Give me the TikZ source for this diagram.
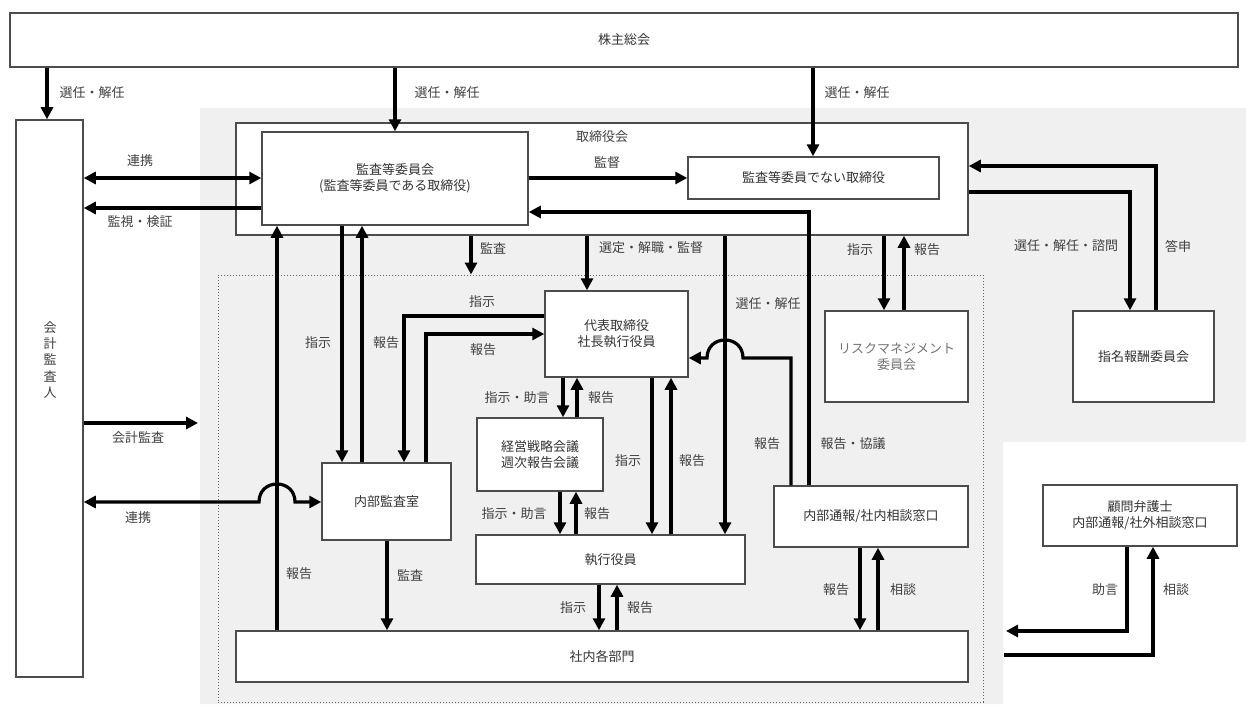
\documentclass[tikz,border=0pt]{standalone}
\usepackage{fontspec}
\setmainfont{Noto Sans CJK JP}
\usetikzlibrary{arrows.meta}

\tikzset{
  box/.style={draw=black!70, line width=1.5pt, fill=white, inner sep=0pt, align=center, text=black!80, font=\fontsize{13}{16}\selectfont},
  lbl/.style={text=black!75, inner sep=1pt, font=\fontsize{13}{16}\selectfont},
  arr/.style={line width=3.2pt, -{Triangle[length=12pt,width=12pt]}},
  dbl/.style={line width=3.2pt, {Triangle[length=12pt,width=12pt]}-{Triangle[length=12pt,width=12pt]}}
}

\begin{document}
\begin{tikzpicture}[x=1pt, y=-1pt]
				% Background
				\useasboundingbox (0,0) rectangle (1246,706);
				\fill[white] (0,0) rectangle (1246,706);
				\fill[black!6] (200,108) -- (1246,108) -- (1246,442) -- (1003,442) -- (1003,704) -- (200,704) -- cycle;
				
				% Boxes
				\node[box, minimum width=1228, minimum height=54] (kabu) at (624,40) {株主総会};
				\node[draw=black!60, dash pattern=on 1pt off 2pt, line width=1pt, minimum width=765, minimum height=427, inner sep=0pt] (exec) at (600.5,488.5) {};
				\node[box, minimum width=732, minimum height=112] (torikai) at (602,179) {};
				\node[lbl] (torilbl) at (602,137) {取締役会};
				\node[box, minimum width=266, minimum height=93] (kansa) at (395,178.5) {監査等委員会\\(監査等委員である取締役)};
				\node[box, minimum width=251, minimum height=42] (hikansa) at (813.5,178) {監査等委員でない取締役};
				\node[box, minimum width=67, minimum height=557] (kaikei) at (49.5,398.5) {};
				\node[lbl, align=center, font=\fontsize{13}{16.3}\selectfont] (kaikeilbl) at (50,360) {会\\計\\監\\査\\人};
				\node[box, minimum width=141, minimum height=91] (shimei) at (1143.5,356.5) {指名報酬委員会};
				\node[box, minimum width=143, minimum height=91, text=black!55] (risk) at (896.5,356.5) {リスクマネジメント\\委員会};
				\node[box, minimum width=143, minimum height=86] (daihyo) at (616.5,334) {代表取締役\\社長執行役員};
				\node[box, minimum width=126, minimum height=73] (keiei) at (540,454.5) {経営戦略会議\\週次報告会議};
				\node[box, minimum width=269, minimum height=49] (shikko) at (610.5,559.5) {執行役員};
				\node[box, minimum width=129, minimum height=77] (naibu) at (386.5,501.5) {内部監査室};
				\node[box, minimum width=194, minimum height=61] (tsuho) at (871,516.5) {内部通報/社内相談窓口};
				\node[box, minimum width=732, minimum height=51] (bumon) at (602,656.5) {社内各部門};
				\node[box, minimum width=194, minimum height=61] (komon) at (1140,515.5) {顧問弁護士\\内部通報/社外相談窓口};
				
				% Free ends
				\coordinate (kaikeitip) at (198,423);
				\coordinate (jogentip) at (1006,631);
				\coordinate (sodanstart) at (1004,655);
				
				% From the general meeting
				\draw[arr] (kabu.south -| 47,0) -- (kaikei.north -| 47,0);
				\draw[arr] (kabu.south -| 395,0) -- (kansa.north);
				\draw[arr] (kabu.south -| 813,0) -- (hikansa.north -| 813,0);
				\node[lbl] (l1) at (92,93) {選任・解任};
				\node[lbl] (l2) at (447,93) {選任・解任};
				\node[lbl] (l3) at (857,93) {選任・解任};
				
				% Auditor and audit committee
				\draw[dbl] (kaikei.east |- 0,178) -- (kansa.west |- 0,178);
				\draw[arr] (kansa.west |- 0,208) -- (kaikei.east |- 0,208);
				\draw[arr] (kaikei.east |- 0,423) -- (kaikeitip);
				\draw[dbl] (kaikei.east |- 0,502) -- (259,502) .. controls (259,478) and (295,478) .. (295,502) -- (naibu.west |- 0,502);
				\node[lbl] (l4) at (140,161) {連携};
				\node[lbl] (l5) at (140,222) {監視・検証};
				\node[lbl] (l6) at (138,438) {会計監査};
				\node[lbl] (l7) at (138,518) {連携};
				
				% Board
				\draw[arr] (kansa.east |- 0,178) -- (hikansa.west |- 0,178);
				\draw[arr] (torikai.south -| 471,0) -- (exec.north -| 471,0);
				\draw[arr] (torikai.south -| 587,0) -- (daihyo.north -| 587,0);
				\draw[arr] (torikai.south -| 725,0) -- (shikko.north -| 725,0);
				\draw[arr] (torikai.south -| 884,0) -- (risk.north -| 884,0);
				\draw[arr] (risk.north -| 904,0) -- (torikai.south -| 904,0);
				\draw[arr] (torikai.east |- 0,192) -| (shimei.north -| 1130,0);
				\draw[arr] (shimei.north -| 1156,0) |- (torikai.east |- 0,166);
				\node[lbl] (l8) at (607,163) {監督};
				\node[lbl] (l9) at (493,248) {監査};
				\node[lbl] (l10) at (651,248) {選定・解職・監督};
				\node[lbl] (l11) at (860,250) {指示};
				\node[lbl] (l12) at (927,250) {報告};
				\node[lbl] (l13) at (1066,246) {選任・解任・諮問};
				\node[lbl] (l14) at (1178,246) {答申};
				\node[lbl] (l15) at (768,304) {選任・解任};
				
				% Internal audit
				\draw[arr] (kansa.south -| 342,0) -- (naibu.north -| 342,0);
				\draw[arr] (naibu.north -| 362,0) -- (kansa.south -| 362,0);
				\draw[arr] (bumon.north -| 277,0) -- (kansa.south -| 277,0);
				\draw[arr] (daihyo.west |- 0,316) -| (naibu.north -| 404,0);
				\draw[arr] (naibu.north -| 426,0) |- (daihyo.west |- 0,334);
				\draw[arr] (naibu.south -| 387,0) -- (bumon.north -| 387,0);
				\node[lbl] (l16) at (318,343) {指示};
				\node[lbl] (l17) at (386,343) {報告};
				\node[lbl] (l18) at (482,302) {指示};
				\node[lbl] (l19) at (483,350) {報告};
				\node[lbl] (l20) at (299,574) {報告};
				\node[lbl] (l21) at (410,575) {監査};
				
				% Execution
				\draw[arr] (daihyo.south -| 563,0) -- (keiei.north -| 563,0);
				\draw[arr] (keiei.north -| 577,0) -- (daihyo.south -| 577,0);
				\draw[arr] (keiei.south -| 560,0) -- (shikko.north -| 560,0);
				\draw[arr] (shikko.north -| 576,0) -- (keiei.south -| 576,0);
				\draw[arr] (daihyo.south -| 652,0) -- (shikko.north -| 652,0);
				\draw[arr] (shikko.north -| 671,0) -- (daihyo.south -| 671,0);
				\draw[arr] (shikko.south -| 599,0) -- (bumon.north -| 599,0);
				\draw[arr] (bumon.north -| 617,0) -- (shikko.south -| 617,0);
				\node[lbl] (l22) at (517,398) {指示・助言};
				\node[lbl] (l23) at (601,398) {報告};
				\node[lbl] (l24) at (514,514) {指示・助言};
				\node[lbl] (l25) at (597,514) {報告};
				\node[lbl] (l26) at (628,461) {指示};
				\node[lbl] (l27) at (692,461) {報告};
				\node[lbl] (l28) at (573,608) {指示};
				\node[lbl] (l29) at (640,608) {報告};
				
				% Whistleblowing
				\draw[arr] (tsuho.north -| 809,0) |- (kansa.east |- 0,212);
				\draw[arr] (tsuho.north -| 791,0) |- (743,358) .. controls (743,334) and (707,334) .. (707,358) -- (daihyo.east |- 0,358);
				\draw[arr] (tsuho.south -| 860,0) -- (bumon.north -| 860,0);
				\draw[arr] (bumon.north -| 878,0) -- (tsuho.south -| 878,0);
				\draw[arr] (komon.south -| 1127,0) |- (jogentip);
				\draw[arr] (sodanstart) -| (komon.south -| 1153,0);
				\node[lbl] (l30) at (767,444) {報告};
				\node[lbl] (l31) at (853,444) {報告・協議};
				\node[lbl] (l32) at (836,590) {報告};
				\node[lbl] (l33) at (903,590) {相談};
				\node[lbl] (l34) at (1105,590) {助言};
				\node[lbl] (l35) at (1176,590) {相談};
			\end{tikzpicture}
\end{document}
